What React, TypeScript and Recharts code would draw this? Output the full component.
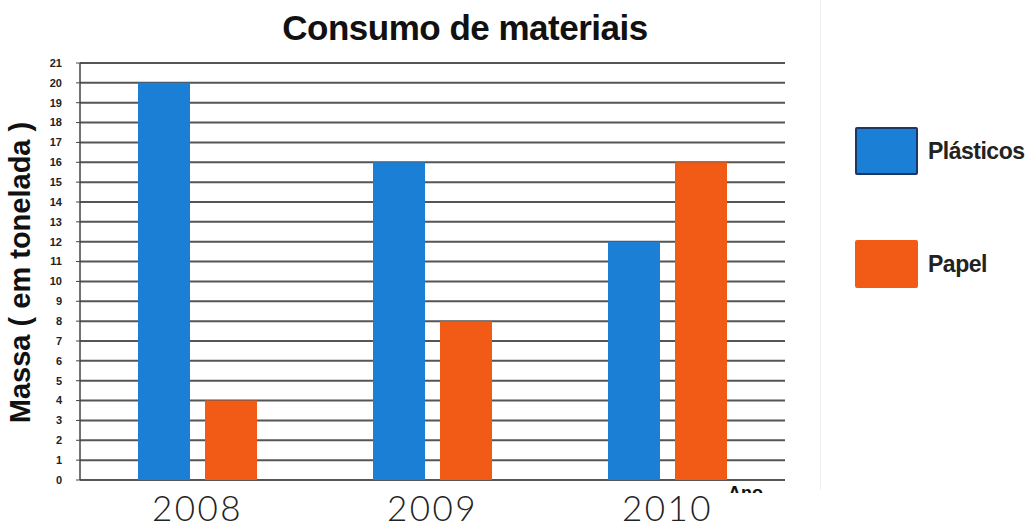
import { BarChart, Bar, XAxis, YAxis, CartesianGrid, Label } from 'recharts';

const anos = ['2008', '2009', '2010'];
const plasticos = [20, 16, 12];
const papel = [4, 8, 16];
const yTicks = [0, 1, 2, 3, 4, 5, 6, 7, 8, 9, 10, 11, 12, 13, 14, 15, 16, 17, 18, 19, 20, 21];

const BLUE = '#1c7fd6';
const ORANGE = '#f25b16';

const data = anos.map((ano, i) => ({ ano, plasticos: plasticos[i], papel: papel[i] }));

const YearTick = ({ x, y, payload }: any) => (
  <text
    x={x}
    y={y + 33}
    textAnchor="middle"
    fill="#222"
    fontFamily="Lato, sans-serif"
    fontWeight={300}
    fontSize={35}
    letterSpacing={2.5}
  >
    {payload.value}
  </text>
);

const YLabel = ({ viewBox }: any) => {
  const cy = viewBox.y + viewBox.height / 2 + 1;
  return (
    <text
      x={20}
      y={cy}
      transform={`rotate(-90, 20, ${cy})`}
      textAnchor="middle"
      dominantBaseline="central"
      fontFamily='"Liberation Sans", Arial, sans-serif'
      fontWeight="bold"
      fontSize={29}
      fill="#111"
    >
      Massa ( em tonelada )
    </text>
  );
};

const legendItems = [
  { name: 'Plásticos', color: BLUE, border: '#1b3766' },
  { name: 'Papel', color: ORANGE, border: ORANGE },
];

const LegendBox = () => (
  <div style={{ position: 'absolute', left: 855, top: 127 }}>
    {legendItems.map((it, i) => (
      <div key={it.name} style={{ display: 'flex', alignItems: 'center', height: 48, marginBottom: i === 0 ? 65 : 0 }}>
        <div style={{ width: 59, height: 44, background: it.color, border: `2px solid ${it.border}`, borderRadius: 2 }} />
        <span
          style={{
            marginLeft: 10,
            fontFamily: '"Liberation Sans", Arial, sans-serif',
            fontWeight: 'bold',
            fontSize: 23,
            letterSpacing: -0.5,
            color: '#222',
          }}
        >
          {it.name}
        </span>
      </div>
    ))}
  </div>
);

export default function App() {
  return (
    <div style={{ position: 'absolute', left: 0, top: 0, width: 1027, height: 529, background: '#fff', overflow: 'hidden' }}>
      <div
        style={{
          position: 'absolute',
          left: 0,
          width: 930,
          top: 8,
          textAlign: 'center',
          fontFamily: '"Liberation Sans", Arial, sans-serif',
          fontWeight: 'bold',
          fontSize: 35,
          letterSpacing: -0.5,
          color: '#111',
          lineHeight: '40px',
        }}
      >
        Consumo de materiais
      </div>
      <div style={{ position: 'absolute', left: 820, top: 0, width: 1, height: 490, background: '#eee' }} />
      <div style={{ position: 'absolute', left: 728, top: 486, width: 70, height: 7, overflow: 'hidden' }}>
        <div style={{ fontFamily: '"Liberation Sans", Arial, sans-serif', fontWeight: 'bold', fontSize: 18, lineHeight: '18px', marginTop: -2, color: '#111' }}>
          Ano
        </div>
      </div>
      <LegendBox />
      <BarChart
        width={1027}
        height={529}
        data={data}
        margin={{ top: 63, right: 242, bottom: 0, left: 0 }}
        barSize={52}
        barGap={15}
        style={{ position: 'absolute', left: 0, top: 0 }}
      >
        <CartesianGrid horizontal vertical={false} stroke="#555" strokeWidth={2} />
        <XAxis dataKey="ano" height={49} axisLine={false} tickLine={false} tick={<YearTick />} interval={0} />
        <YAxis
          width={80}
          domain={[0, 21]}
          ticks={yTicks}
          interval={0}
          axisLine={{ stroke: '#444', strokeWidth: 1.5 }}
          tickLine={{ stroke: '#444' }}
          tickSize={4}
          tickMargin={14}
          tick={{ fontSize: 11, fontWeight: 'bold', fill: '#222', fontFamily: '"Liberation Sans Narrow", "Liberation Sans", Arial, sans-serif' }}
        >
          <Label content={<YLabel />} />
        </YAxis>
        <Bar dataKey="plasticos" name="Plásticos" fill={BLUE} isAnimationActive={false} />
        <Bar dataKey="papel" name="Papel" fill={ORANGE} isAnimationActive={false} />
      </BarChart>
    </div>
  );
}
